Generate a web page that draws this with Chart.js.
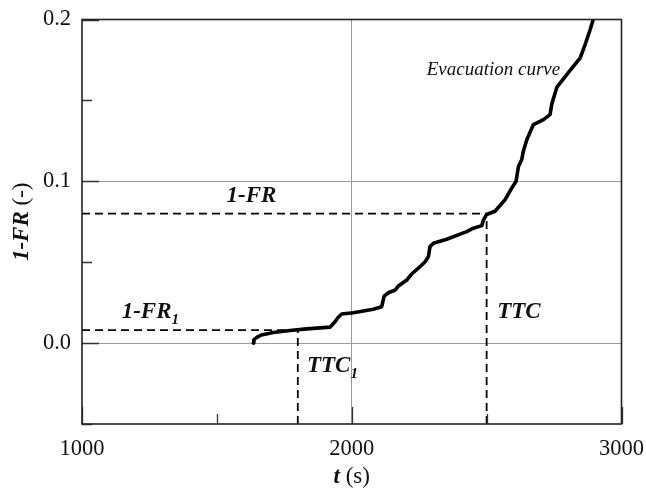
<!DOCTYPE html>
<html lang="en">
<head>
    <meta charset="UTF-8">
    <script src="https://cdn.jsdelivr.net/npm/chart.js"></script>
    <style>
        body, html {
            margin: 0;
            padding: 0;
            background: #fff;
        }
        #chart {
            display: block;
        }
    </style>
</head>
<body>
    <canvas id="chart" width="646" height="489"></canvas>
    <script>
        // evacuation curve: time (s) vs 1-FR
        const evacTime = [1635, 1637, 1648, 1665, 1709, 1771, 1833, 1920, 1938, 1950, 1963, 2006, 2080, 2111,
            2120, 2136, 2161, 2173, 2204, 2222, 2247, 2272, 2284, 2290, 2303, 2352, 2426, 2451, 2482, 2488,
            2500, 2531, 2568, 2593, 2609, 2618, 2630, 2636, 2649, 2673, 2711, 2735, 2742, 2760, 2797, 2847,
            2865, 2884, 2895];
        const evacFR = [0.000, 0.002, 0.0035, 0.005, 0.0066, 0.0078, 0.0088, 0.0099, 0.0132, 0.016, 0.018, 0.0188, 0.0209, 0.0225,
            0.029, 0.0311, 0.0328, 0.0353, 0.039, 0.0427, 0.0463, 0.0503, 0.0534, 0.0596, 0.0617, 0.0642, 0.0689, 0.071, 0.0726, 0.076,
            0.0795, 0.0815, 0.0885, 0.0958, 0.0999, 0.1092, 0.1133, 0.1185, 0.1257, 0.135, 0.1381, 0.1412, 0.148, 0.158, 0.1659, 0.1763,
            0.1845, 0.1938, 0.2];

        // reference levels
        const TTC = 2500, FR = 0.08;
        const TTC1 = 1800, FR1 = 0.008;

        const xTicks = [1000, 2000, 3000];
        const yTicks = [0.0, 0.1, 0.2];
        const xMin = 1000, xMax = 3000, yMin = -0.05, yMax = 0.2;

        const serif = "'Liberation Serif', 'Times New Roman', serif";
        const gridColor = '#9a9a9a';
        const inkColor = '#111';

        // text labels placed in data coordinates
        const notes = [
            { x: 1536, y: 0.0875, parts: [{ t: '1-FR', f: 'italic bold 23px' }] },
            { x: 1147, y: 0.0153, parts: [{ t: '1-FR', f: 'italic bold 23px' }, { t: '1', f: 'italic bold 15px', dy: 6 }] },
            { x: 2539, y: 0.0155, parts: [{ t: 'TTC', f: 'italic bold 23px' }] },
            { x: 1834, y: -0.018, parts: [{ t: 'TTC', f: 'italic bold 23px' }, { t: '1', f: 'italic bold 15px', dy: 6 }] },
            { x: 2278, y: 0.166, parts: [{ t: 'Evacuation curve', f: 'italic 19px' }] }
        ];

        function drawParts(ctx, parts, x, y) {
            parts.forEach(p => {
                ctx.font = p.f + ' ' + serif;
                ctx.fillText(p.t, x, y + (p.dy || 0));
                x += ctx.measureText(p.t).width;
            });
        }

        function partsWidth(ctx, parts) {
            let w = 0;
            parts.forEach(p => {
                ctx.font = p.f + ' ' + serif;
                w += ctx.measureText(p.t).width;
            });
            return w;
        }

        const decorPlugin = {
            id: 'decor',
            afterDatasetsDraw(chart) {
                const ctx = chart.ctx;
                const area = chart.chartArea;
                const sx = chart.scales.x, sy = chart.scales.y;
                ctx.save();

                // inward tick marks on bottom and left
                ctx.strokeStyle = '#333';
                ctx.lineWidth = 1.3;
                ctx.beginPath();
                sx.ticks.forEach(t => {
                    const px = Math.round(sx.getPixelForValue(t.value)) + 0.5;
                    const len = xTicks.includes(t.value) ? 17 : 10;
                    ctx.moveTo(px, area.bottom);
                    ctx.lineTo(px, area.bottom - len);
                });
                sy.ticks.forEach(t => {
                    const py = Math.round(sy.getPixelForValue(t.value)) + 0.5;
                    const major = yTicks.some(v => Math.abs(v - t.value) < 1e-9);
                    ctx.moveTo(area.left, py);
                    ctx.lineTo(area.left + (major ? 17 : 10), py);
                });
                ctx.stroke();

                // frame
                ctx.lineWidth = 1.6;
                ctx.strokeStyle = '#222';
                ctx.strokeRect(area.left, area.top, area.right - area.left, area.bottom - area.top);

                // notes
                ctx.fillStyle = inkColor;
                ctx.textBaseline = 'alphabetic';
                ctx.textAlign = 'left';
                notes.forEach(n => {
                    drawParts(ctx, n.parts, sx.getPixelForValue(n.x), sy.getPixelForValue(n.y));
                });

                // axis titles with mixed styles
                const xTitle = [{ t: 't', f: 'italic bold 23px' }, { t: ' (s)', f: '23px' }];
                const cx = (area.left + area.right) / 2;
                drawParts(ctx, xTitle, cx - partsWidth(ctx, xTitle) / 2, chart.height - 6);

                const yTitle = [{ t: '1-FR', f: 'italic bold 23px' }, { t: ' (-)', f: '23px' }];
                const cy = (area.top + area.bottom) / 2;
                ctx.translate(28, cy);
                ctx.rotate(-Math.PI / 2);
                drawParts(ctx, yTitle, -partsWidth(ctx, yTitle) / 2, 0);
                ctx.restore();
            }
        };

        const curve = evacTime.map((t, i) => ({ x: t, y: evacFR[i] }));
        const dashStyle = {
            showLine: true,
            borderColor: '#000',
            borderWidth: 1.8,
            borderDash: [8, 5],
            pointRadius: 0
        };

        new Chart(document.getElementById('chart'), {
            type: 'scatter',
            data: {
                datasets: [
                    { ...dashStyle, data: [{ x: xMin, y: FR }, { x: TTC, y: FR }] },
                    { ...dashStyle, data: [{ x: TTC, y: yMin }, { x: TTC, y: FR }] },
                    { ...dashStyle, data: [{ x: xMin, y: FR1 }, { x: TTC1, y: FR1 }] },
                    { ...dashStyle, data: [{ x: TTC1, y: yMin }, { x: TTC1, y: FR1 }] },
                    {
                        data: curve,
                        showLine: true,
                        borderColor: '#000',
                        borderWidth: 3.6,
                        borderJoinStyle: 'round',
                        borderCapStyle: 'round',
                        pointRadius: 0,
                        tension: 0
                    }
                ]
            },
            options: {
                responsive: false,
                animation: false,
                events: [],
                layout: { padding: { top: 19.5, right: 24.5, left: 0, bottom: 0 } },
                plugins: {
                    legend: { display: false },
                    tooltip: { enabled: false }
                },
                scales: {
                    x: {
                        type: 'linear',
                        min: xMin,
                        max: xMax,
                        border: { display: false },
                        grid: {
                            drawTicks: false,
                            lineWidth: 1,
                            color: c => (c.tick && c.tick.value === 2000) ? gridColor : 'transparent'
                        },
                        ticks: {
                            stepSize: 500,
                            autoSkip: false,
                            maxRotation: 0,
                            padding: 12,
                            color: inkColor,
                            font: { family: serif, size: 22.5 },
                            callback: v => xTicks.includes(v) ? String(v) : ''
                        },
                        afterFit: s => {
                            s.height = 65;
                            s.paddingLeft = 0;
                            s.paddingRight = 0;
                        }
                    },
                    y: {
                        type: 'linear',
                        min: yMin,
                        max: yMax,
                        border: { display: false },
                        grid: {
                            drawTicks: false,
                            lineWidth: 1,
                            color: c => (c.tick && (Math.abs(c.tick.value) < 1e-9 || Math.abs(c.tick.value - 0.1) < 1e-9)) ? gridColor : 'transparent'
                        },
                        ticks: {
                            stepSize: 0.05,
                            autoSkip: false,
                            padding: 11,
                            color: inkColor,
                            font: { family: serif, size: 22.5 },
                            callback: v => yTicks.some(t => Math.abs(t - v) < 1e-9) ? v.toFixed(1) : ''
                        },
                        afterFit: s => {
                            s.width = 82;
                            s.paddingTop = 0;
                            s.paddingBottom = 0;
                        }
                    }
                }
            },
            plugins: [decorPlugin]
        });
    </script>
</body>
</html>
